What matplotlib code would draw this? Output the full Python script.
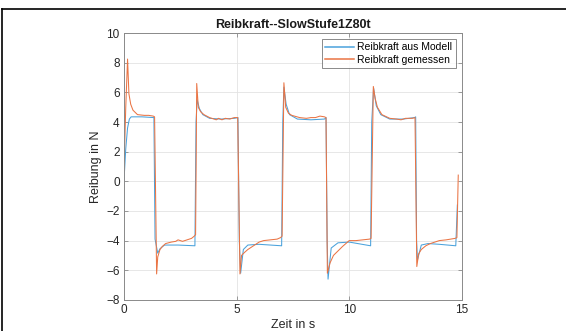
"""
Reibkraft -- Modell vs. Messung (SlowStufe1Z80t)
"""

import matplotlib
matplotlib.use("Agg")
import matplotlib.pyplot as plt
from matplotlib.lines import Line2D


# ── Data ─────────────────────────────────────────────────────────────────────

t_model = [0.0, 0.08, 0.16, 0.24, 0.32, 0.8, 1.33,
           1.38, 1.5, 1.6, 1.8, 2.4, 3.15,
           3.2, 3.25, 3.35, 3.5, 3.8, 4.3, 4.9, 5.06,
           5.12, 5.18, 5.3, 5.5, 6.0, 7.0,
           7.05, 7.1, 7.2, 7.35, 7.7, 8.3, 8.9, 8.97,
           9.02, 9.06, 9.2, 9.5, 10.0, 10.95,
           11.0, 11.08, 11.2, 11.4, 11.8, 12.4, 12.9, 12.95,
           12.99, 13.03, 13.2, 13.5, 14.0, 14.73, 14.8]
f_model = [0.0, 2.2, 3.6, 4.2, 4.35, 4.35, 4.3,
           -3.9, -4.85, -4.55, -4.3, -4.3, -4.35,
           4.0, 5.5, 4.9, 4.5, 4.25, 4.2, 4.25, 4.3,
           -4.0, -6.2, -4.6, -4.3, -4.25, -4.35,
           4.0, 6.35, 5.2, 4.5, 4.2, 4.15, 4.2, 4.3,
           -4.0, -6.6, -4.5, -4.15, -4.1, -4.35,
           4.0, 6.3, 5.1, 4.5, 4.2, 4.2, 4.3, 4.35,
           -4.0, -5.3, -4.3, -4.2, -4.25, -4.35, -1.6]

t_meas = [0.0, 0.08, 0.16, 0.22, 0.3, 0.4, 0.6, 0.9, 1.1, 1.3, 1.36,
          1.45, 1.5, 1.6, 1.7, 1.85, 2.1, 2.3, 2.4, 2.6, 2.8, 3.0, 3.12, 3.18,
          3.23, 3.3, 3.4, 3.55, 3.8, 4.0, 4.1, 4.2, 4.35, 4.5, 4.7, 4.9, 5.05,
          5.15, 5.22, 5.35, 5.5, 5.8, 6.0, 6.2, 6.5, 6.8, 6.95, 7.02,
          7.1, 7.18, 7.3, 7.45, 7.8, 8.1, 8.3, 8.5, 8.7, 8.9, 8.97,
          9.03, 9.15, 9.3, 9.5, 9.7, 10.0, 10.3, 10.6, 10.9, 10.97,
          11.07, 11.15, 11.25, 11.45, 11.8, 12.1, 12.3, 12.5, 12.8, 12.92,
          13.0, 13.08, 13.2, 13.4, 13.6, 13.8, 14.0, 14.3, 14.5, 14.7, 14.78,
          14.84]
f_meas = [0.7, 5.0, 8.25, 5.9, 5.2, 4.8, 4.5, 4.45, 4.45, 4.4, 4.35,
          -6.25, -5.1, -4.6, -4.4, -4.2, -4.1, -4.05, -3.95, -4.05, -3.95, -3.85, -3.7, -3.6,
          6.6, 5.0, 4.7, 4.5, 4.3, 4.2, 4.15, 4.25, 4.15, 4.25, 4.2, 4.3, 4.3,
          -6.25, -5.0, -4.8, -4.6, -4.3, -4.1, -4.0, -3.95, -3.9, -3.8, -3.7,
          6.65, 5.0, 4.6, 4.45, 4.3, 4.25, 4.3, 4.3, 4.4, 4.35, 4.3,
          -6.2, -5.5, -5.0, -4.7, -4.4, -4.0, -4.0, -3.95, -3.9, -3.85,
          6.4, 5.6, 5.0, 4.5, 4.25, 4.2, 4.15, 4.25, 4.25, 4.3,
          -5.75, -4.9, -4.6, -4.35, -4.2, -4.1, -4.0, -3.95, -3.9, -3.85, -3.8,
          0.42]

x_ticks = [0, 5, 10, 15]
y_ticks = [-8, -6, -4, -2, 0, 2, 4, 6, 8, 10]


# ── Plot ─────────────────────────────────────────────────────────────────────

plt.rcParams["font.family"] = ["Liberation Sans", "DejaVu Sans"]

fig = plt.figure(figsize=(5.66, 3.31), dpi=100)
ax = fig.add_axes([0.219, 0.094, 0.597, 0.806])

ax.plot(t_model, f_model, color="#4aa2dc", lw=0.75, label="Reibkraft aus Modell")
ax.plot(t_meas, f_meas, color="#ea7444", lw=0.75, label="Reibkraft gemessen")

ax.set_xlim(0, 15)
ax.set_ylim(-8, 10)
ax.set_xticks(x_ticks)
ax.set_yticks(y_ticks)
ax.grid(True, color="#e3e3e3", lw=0.6)
ax.set_axisbelow(True)

ax.tick_params(direction="in", top=True, right=True, length=3, width=0.6,
               colors="#8a8a8a", labelcolor="#262626", labelsize=8.5, pad=3)
for sp in ax.spines.values():
    sp.set_color("#8a8a8a")
    sp.set_linewidth(0.7)

ax.set_title("Reibkraft--SlowStufe1Z80t", fontsize=9, fontweight="bold",
             color="#1a1a1a", pad=4)
ax.set_xlabel("Zeit in s", fontsize=9, color="#262626", labelpad=2)
ax.set_ylabel("Reibung in N", fontsize=9, color="#262626", labelpad=3)

leg = ax.legend(loc="upper right", fontsize=7.5, frameon=True, fancybox=False,
                handlelength=2.8, handletextpad=0.3, borderpad=0.3,
                labelspacing=0.2, borderaxespad=0.6)
leg.get_frame().set_edgecolor("#555555")
leg.get_frame().set_linewidth(0.6)
for h in leg.get_lines():
    h.set_linewidth(1.1)

# screenshot frame (top and left edges only)
fig.add_artist(Line2D([0.004, 1.0], [0.972, 0.972], color="black", lw=1.2))
fig.add_artist(Line2D([0.004, 0.004], [0.0, 0.972], color="black", lw=1.2))

plt.savefig("out.png", dpi=100)
